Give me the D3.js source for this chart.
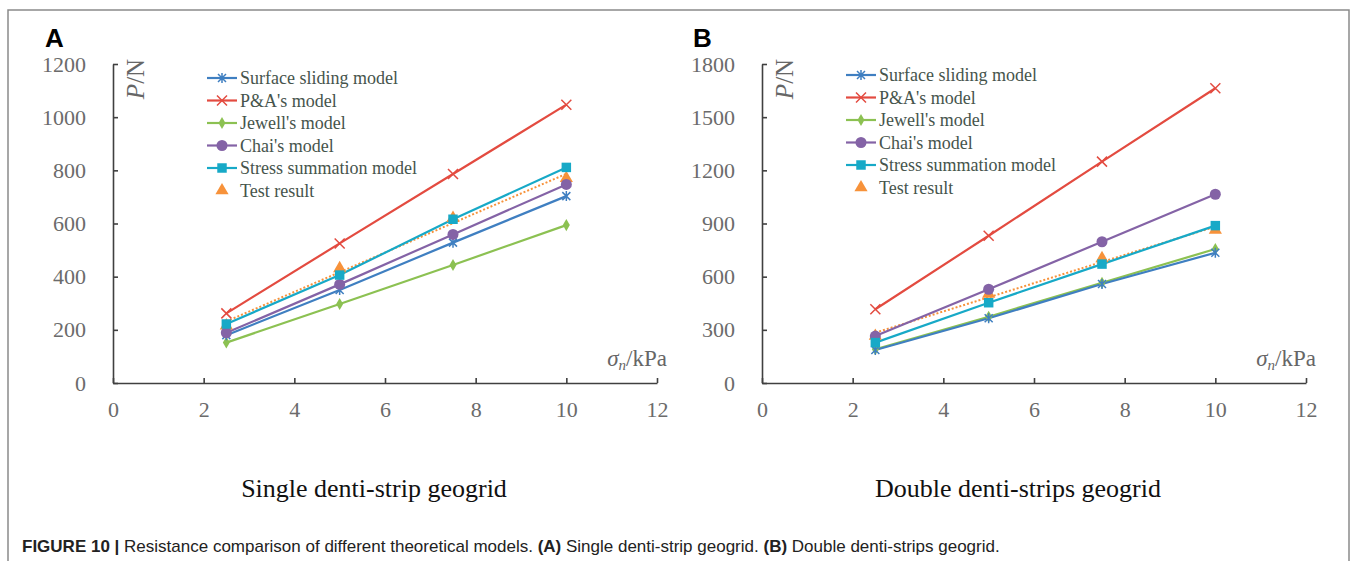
<!DOCTYPE html>
<html>
<head>
<meta charset="utf-8">
<script src="https://cdn.jsdelivr.net/npm/d3@7"></script>
<style>
  html, body { margin: 0; padding: 0; background: #fff; }
  svg { display: block; }
</style>
</head>
<body>
<div id="chart"></div>
<script>
// x positions (normal stress, kPa)
const xValues = [2.5, 5, 7.5, 10];
const xTicks = [0, 2, 4, 6, 8, 10, 12];

const seriesNames = ["Surface sliding model", "P&A's model", "Jewell's model", "Chai's model", "Stress summation model", "Test result"];

// panel A: single denti-strip geogrid
const aYTicks = [0, 200, 400, 600, 800, 1000, 1200];
const aSurface = [180, 350, 528, 703];
const aPA = [262, 525, 786, 1047];
const aJewell = [152, 297, 444, 594];
const aChai = [189, 371, 559, 747];
const aStress = [222, 406, 616, 811];
const aTest = [216, 431, 620, 770];

// panel B: double denti-strips geogrid
const bYTicks = [0, 300, 600, 900, 1200, 1500, 1800];
const bSurface = [186, 365, 559, 735];
const bPA = [416, 831, 1249, 1663];
const bJewell = [190, 374, 566, 756];
const bChai = [265, 529, 797, 1065];
const bStress = [228, 453, 671, 888];
const bTest = [265, 502, 703, 863];

const colors = ["#3f7fc1", "#e34b40", "#8cc152", "#8463a6", "#17a9c7", "#f7923a"];
const markers = ["asterisk", "times", "diamond", "circle", "square", "triangle"];

const W = 1356, H = 561;
const svg = d3.select("#chart").append("svg")
    .attr("width", W)
    .attr("height", H);

// frame around the figure (bottom edge falls outside the picture)
svg.append("path")
    .attr("d", `M8,${H + 5}V10H1349V${H + 5}`)
    .attr("fill", "none")
    .attr("stroke", "#8a8a8a")
    .attr("stroke-width", 1.5);

const serif = "'Liberation Serif', 'Times New Roman', serif";
const sans = "'Liberation Sans', Arial, sans-serif";

function markerPath(type) {
    if (type === "asterisk") return "M-4,-4L4,4M-4,4L4,-4M0,-5L0,5";
    if (type === "times") return "M-5,-5L5,5M-5,5L5,-5";
    if (type === "diamond") return d3.symbol(d3.symbolDiamond, 42)();
    if (type === "circle") return d3.symbol(d3.symbolCircle, 95)();
    if (type === "square") return d3.symbol(d3.symbolSquare, 90)();
    return d3.symbol(d3.symbolTriangle, 75)();
}

function drawMarker(g, type, color, x, y) {
    const open = type === "asterisk" || type === "times";
    g.append("path")
        .attr("d", markerPath(type))
        .attr("transform", `translate(${x},${y})`)
        .attr("fill", open ? "none" : color)
        .attr("stroke", open ? color : "none")
        .attr("stroke-width", open ? 1.5 : 0);
}

function drawPanel(p) {
    const x = d3.scaleLinear().domain([0, 12]).range([p.left, p.left + 544]);
    const y = d3.scaleLinear().domain([0, p.yMax]).range([383, 64]);

    const g = svg.append("g");

    // axes, ticks pointing inward
    const xAxis = g.append("g")
        .attr("transform", "translate(0,383)")
        .call(d3.axisBottom(x).tickValues(xTicks).tickFormat(d3.format("d"))
            .tickSizeInner(-5).tickSizeOuter(0).tickPadding(18));
    const yAxis = g.append("g")
        .attr("transform", `translate(${p.left},0)`)
        .call(d3.axisLeft(y).tickValues(p.yTicks).tickFormat(d3.format("d"))
            .tickSizeInner(-5).tickSizeOuter(0).tickPadding(27));

    [xAxis, yAxis].forEach(a => {
        a.select(".domain").attr("stroke", "#404040").attr("stroke-width", 1.6);
        a.selectAll(".tick line").attr("stroke", "#404040").attr("stroke-width", 1.6);
        a.selectAll(".tick text")
            .attr("fill", "#6b6b6b")
            .style("font-family", serif)
            .style("font-size", "22px");
    });

    // axis titles
    const py = g.append("text")
        .attr("transform", `translate(${p.left + 31},79) rotate(-90)`)
        .attr("text-anchor", "middle")
        .attr("fill", "#666")
        .style("font-family", serif)
        .style("font-size", "25px");
    py.append("tspan").style("font-style", "italic").text("P");
    py.append("tspan").text("/N");

    const px = g.append("text")
        .attr("x", x(12) + 10)
        .attr("y", 366)
        .attr("text-anchor", "end")
        .attr("fill", "#666")
        .style("font-family", serif)
        .style("font-size", "23px");
    px.append("tspan").style("font-style", "italic").text("σ");
    px.append("tspan").style("font-style", "italic").style("font-size", "15px").attr("dy", 4).text("n");
    px.append("tspan").attr("dy", -4).text("/kPa");

    // test result trend line (least squares of the test points)
    const test = p.series[5];
    const mx = d3.mean(xValues), my = d3.mean(test);
    const slope = d3.sum(xValues, (v, i) => (v - mx) * (test[i] - my)) / d3.sum(xValues, v => (v - mx) ** 2);
    const fit = v => my + slope * (v - mx);
    g.append("line")
        .attr("x1", x(xValues[0])).attr("y1", y(fit(xValues[0])))
        .attr("x2", x(xValues[3])).attr("y2", y(fit(xValues[3])))
        .attr("stroke", colors[5])
        .attr("stroke-width", 2)
        .attr("stroke-dasharray", "2,2");

    const line = d3.line().x((d, i) => x(xValues[i])).y(d => y(d));

    // draw order: test first, then models so lines sit on top
    const order = [5, 2, 0, 3, 4, 1];
    order.forEach(k => {
        if (k !== 5) {
            g.append("path")
                .attr("d", line(p.series[k]))
                .attr("fill", "none")
                .attr("stroke", colors[k])
                .attr("stroke-width", 2.2);
        }
    });
    order.forEach(k => {
        p.series[k].forEach((v, i) => drawMarker(g, markers[k], colors[k], x(xValues[i]), y(v)));
    });

    // legend
    seriesNames.forEach((name, k) => {
        const ly = p.legendY + k * 22.5;
        if (k !== 5) {
            g.append("line")
                .attr("x1", p.legendX).attr("x2", p.legendX + 30)
                .attr("y1", ly).attr("y2", ly)
                .attr("stroke", colors[k])
                .attr("stroke-width", 2.2);
        }
        drawMarker(g, markers[k], colors[k], p.legendX + 15, ly);
        g.append("text")
            .attr("x", p.legendX + 33)
            .attr("y", ly)
            .attr("dy", "0.35em")
            .attr("fill", "#46544c")
            .style("font-family", serif)
            .style("font-size", "18px")
            .text(name);
    });

    // panel letter and subtitle
    svg.append("text")
        .attr("x", p.letterX).attr("y", 47)
        .style("font-family", sans)
        .style("font-weight", "bold")
        .style("font-size", "26px")
        .text(p.letter);

    svg.append("text")
        .attr("x", p.titleX).attr("y", 497)
        .attr("text-anchor", "middle")
        .attr("fill", "#111")
        .style("font-family", serif)
        .style("font-size", "26px")
        .text(p.title);
}

drawPanel({
    left: 113, yMax: 1200, yTicks: aYTicks,
    series: [aSurface, aPA, aJewell, aChai, aStress, aTest],
    legendX: 207, legendY: 78,
    letter: "A", letterX: 45,
    title: "Single denti-strip geogrid", titleX: 374
});

drawPanel({
    left: 762, yMax: 1800, yTicks: bYTicks,
    series: [bSurface, bPA, bJewell, bChai, bStress, bTest],
    legendX: 846, legendY: 75,
    letter: "B", letterX: 693,
    title: "Double denti-strips geogrid", titleX: 1018
});

// figure caption
const cap = svg.append("text")
    .attr("x", 22).attr("y", 552)
    .attr("fill", "#222")
    .style("font-family", sans)
    .style("font-size", "17px");
cap.append("tspan").style("font-weight", "bold").text("FIGURE 10 | ");
cap.append("tspan").text("Resistance comparison of different theoretical models. ");
cap.append("tspan").style("font-weight", "bold").text("(A)");
cap.append("tspan").text(" Single denti-strip geogrid. ");
cap.append("tspan").style("font-weight", "bold").text("(B)");
cap.append("tspan").text(" Double denti-strips geogrid.");
</script>
</body>
</html>
